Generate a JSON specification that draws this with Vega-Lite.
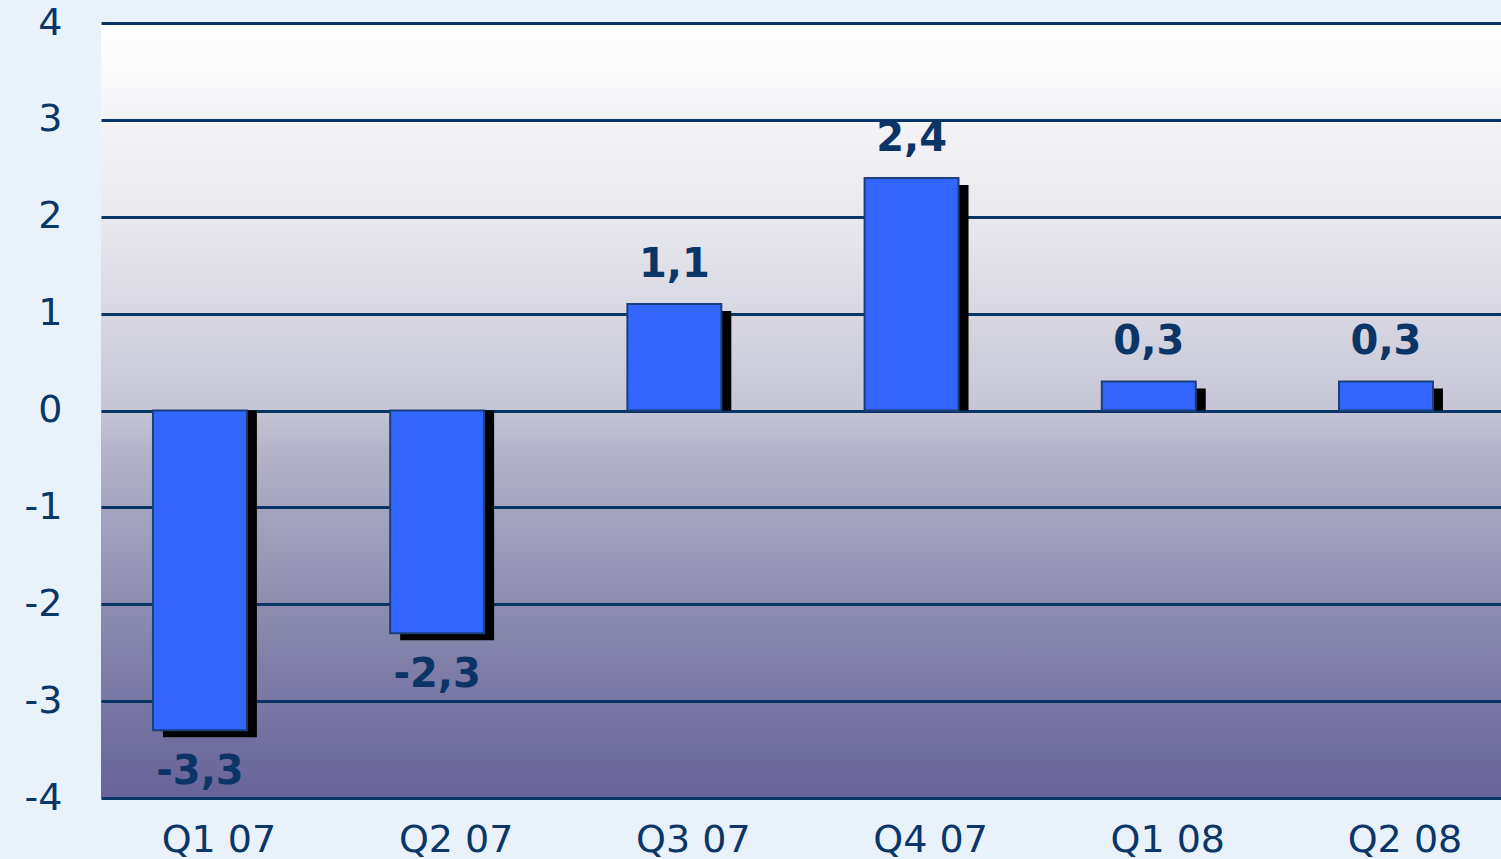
{
  "$schema": "https://vega.github.io/schema/vega-lite/v6.json",
  "width": 1400,
  "height": 775,
  "autosize": "none",
  "padding": {"left": 101, "top": 23, "right": 0, "bottom": 61},
  "background": "#e9f2fa",
  "config": {
    "view": {
      "stroke": null,
      "fill": {
        "gradient": "linear", "x1": 0, "y1": 0, "x2": 0, "y2": 1,
        "stops": [
          {"offset": 0, "color": "#ffffff"},
          {"offset": 0.254, "color": "#e8e8ee"},
          {"offset": 0.5, "color": "#c6c5d6"},
          {"offset": 0.551, "color": "#b4b3c9"},
          {"offset": 0.796, "color": "#8584ab"},
          {"offset": 1, "color": "#67639a"}
        ]
      }
    },
    "axis": {"labelFont": "DejaVu Sans", "labelFontSize": 38, "labelColor": "#0a3668", "domain": false, "ticks": false, "title": null}
  },
  "data": {
    "values": [
      {"q": "Q1 07", "v": -3.3, "label": "-3,3"},
      {"q": "Q2 07", "v": -2.3, "label": "-2,3"},
      {"q": "Q3 07", "v": 1.1, "label": "1,1"},
      {"q": "Q4 07", "v": 2.4, "label": "2,4"},
      {"q": "Q1 08", "v": 0.3, "label": "0,3"},
      {"q": "Q2 08", "v": 0.3, "label": "0,3"}
    ]
  },
  "encoding": {
    "x": {
      "field": "q", "type": "nominal", "sort": null,
      "scale": {"paddingInner": 0.604, "paddingOuter": 0.253, "align": 0.433},
      "axis": {"labelAngle": 0, "labelPadding": 23, "labelOffset": 19, "grid": false}
    },
    "y": {
      "field": "v", "type": "quantitative",
      "scale": {"domain": [-4, 4], "nice": false, "zero": false},
      "axis": {
        "values": [-4, -3, -2, -1, 0, 1, 2, 3, 4],
        "labelPadding": 39,
        "labelExpr": "'' + datum.value",
        "grid": true, "gridColor": "#083466", "gridWidth": 3, "gridOpacity": 1
      }
    }
  },
  "layer": [
    {
      "mark": {"type": "bar", "color": "#000000", "xOffset": 10, "yOffset": 7},
      "encoding": {"y": {"field": "v", "type": "quantitative"}, "y2": {"datum": 0}}
    },
    {
      "mark": {"type": "bar", "fill": "#3366ff", "stroke": "#1a3f7a", "strokeWidth": 2}
    },
    {
      "transform": [{"filter": "datum.v >= 0"}],
      "mark": {"type": "text", "font": "DejaVu Sans", "fontWeight": "bold", "fontSize": 40, "color": "#0a3566", "baseline": "alphabetic", "dy": -27},
      "encoding": {"text": {"field": "label"}}
    },
    {
      "transform": [{"filter": "datum.v < 0"}],
      "mark": {"type": "text", "font": "DejaVu Sans", "fontWeight": "bold", "fontSize": 40, "color": "#0a3566", "baseline": "alphabetic", "dy": 54},
      "encoding": {"text": {"field": "label"}}
    }
  ]
}
